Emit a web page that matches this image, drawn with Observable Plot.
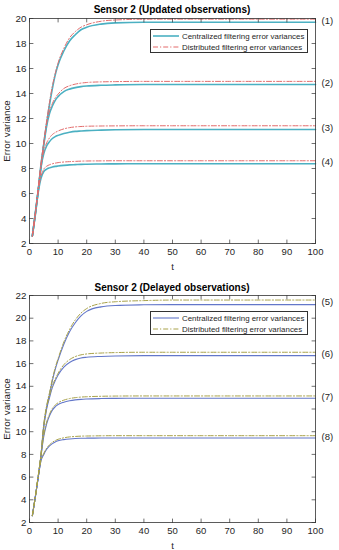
<!DOCTYPE html>
<html><head><meta charset="utf-8">
<script src="https://cdn.jsdelivr.net/npm/d3@7"></script>
<script src="https://cdn.jsdelivr.net/npm/@observablehq/plot@0.6"></script>
<style>
body{margin:0;background:#fff;}
#root{position:relative;width:339px;height:550px;background:#fff;font-family:"Liberation Sans",Arial,sans-serif;color:#262626;overflow:hidden;}
.chart{position:absolute;left:0;}
.title{position:absolute;left:29px;width:286px;text-align:center;font-weight:bold;font-size:10px;line-height:12px;color:#000;}
.legend{position:absolute;background:#fff;border:0.8px solid #333;box-sizing:border-box;}
.legend .row{position:absolute;left:2px;height:10px;display:flex;align-items:center;font-size:7.9px;white-space:nowrap;}
.legend svg{margin-right:3px;}
</style></head>
<body><div id="root"></div>
<script>
// time steps
const t = [1,2,3,4,5,6,7,8,9,10,12,14,16,18,20,25,30,40,50,60,70,80,90,100];

// Sensor 2 (Updated observations)
const upd1C = [2.6,4.4,6.2,8.0,10.0,11.6,13.1,14.4,15.5,16.3,17.4,18.2,18.7,19.1,19.3,19.55,19.65,19.7,19.7,19.7,19.7,19.7,19.7,19.7];
const upd1D = [2.6,4.4,6.3,8.1,10.1,11.8,13.3,14.6,15.6,16.45,17.6,18.45,18.95,19.3,19.5,19.78,19.88,19.94,19.95,19.95,19.95,19.95,19.95,19.95];
const upd2C = [2.6,4.3,6.1,8.3,9.9,11.4,12.4,13.0,13.45,13.75,14.15,14.35,14.47,14.55,14.6,14.66,14.69,14.72,14.72,14.72,14.72,14.72,14.72,14.72];
const upd2D = [2.6,4.3,6.2,8.4,10.05,11.6,12.6,13.2,13.65,13.95,14.4,14.62,14.75,14.83,14.88,14.93,14.95,14.97,14.97,14.97,14.97,14.97,14.97,14.97];
const upd3C = [2.6,4.3,6.2,8.1,9.2,9.8,10.15,10.4,10.55,10.65,10.8,10.9,10.97,11.0,11.03,11.07,11.1,11.12,11.12,11.12,11.12,11.12,11.12,11.12];
const upd3D = [2.6,4.3,6.3,8.2,9.4,10.05,10.45,10.72,10.88,11.0,11.17,11.27,11.33,11.36,11.38,11.4,11.41,11.42,11.42,11.42,11.42,11.42,11.42,11.42];
const upd4C = [2.6,4.2,6.0,7.2,7.75,7.95,8.05,8.12,8.17,8.2,8.25,8.29,8.31,8.33,8.34,8.36,8.37,8.38,8.38,8.38,8.38,8.38,8.38,8.38];
const upd4D = [2.6,4.2,6.1,7.35,7.95,8.18,8.3,8.38,8.43,8.47,8.52,8.55,8.57,8.59,8.6,8.61,8.62,8.62,8.62,8.62,8.62,8.62,8.62,8.62];

// Sensor 2 (Delayed observations)
const del5C = [2.6,4.2,5.9,7.9,10.6,12.2,13.3,14.5,15.5,16.3,17.7,18.8,19.6,20.2,20.6,21.0,21.12,21.18,21.2,21.2,21.2,21.2,21.2,21.2];
const del5D = [2.6,4.2,6.0,8.0,10.7,12.3,13.45,14.65,15.65,16.45,17.9,19.0,19.85,20.45,20.85,21.3,21.45,21.55,21.6,21.6,21.6,21.6,21.6,21.6];
const del6C = [2.6,4.2,5.9,7.8,10.4,12.0,13.0,13.9,14.5,15.0,15.7,16.1,16.35,16.5,16.56,16.63,16.67,16.7,16.7,16.7,16.7,16.7,16.7,16.7];
const del6D = [2.6,4.2,6.0,7.9,10.5,12.15,13.15,14.05,14.65,15.15,15.9,16.35,16.62,16.77,16.85,16.93,16.97,17.0,17.0,17.0,17.0,17.0,17.0,17.0];
const del7C = [2.6,4.2,5.9,7.8,9.6,10.7,11.4,11.9,12.2,12.4,12.6,12.72,12.8,12.85,12.88,12.92,12.94,12.95,12.95,12.95,12.95,12.95,12.95,12.95];
const del7D = [2.6,4.2,6.0,7.9,9.7,10.85,11.55,12.05,12.35,12.55,12.78,12.92,13.0,13.05,13.08,13.12,13.14,13.15,13.15,13.15,13.15,13.15,13.15,13.15];
const del8C = [2.6,4.2,5.9,7.4,8.0,8.45,8.75,8.95,9.1,9.2,9.3,9.36,9.4,9.42,9.43,9.44,9.45,9.45,9.45,9.45,9.45,9.45,9.45,9.45];
const del8D = [2.6,4.2,6.0,7.45,8.1,8.55,8.85,9.07,9.22,9.33,9.46,9.54,9.58,9.61,9.62,9.64,9.65,9.65,9.65,9.65,9.65,9.65,9.65,9.65];

const xTicks = [0,10,20,30,40,50,60,70,80,90,100];
const yTicksUpd = [2,4,6,8,10,12,14,16,18,20];
const yTicksDel = [2,4,6,8,10,12,14,16,18,20,22];
const labelsUpd = ["(1)","(2)","(3)","(4)"];
const labelsDel = ["(5)","(6)","(7)","(8)"];
const titles = ["Sensor 2 (Updated observations)","Sensor 2 (Delayed observations)"];
const legendNames = ["Centralized filtering error variances","Distributed filtering error variances"];

const FONT = '"Liberation Sans",Arial,sans-serif';
const DASH = "5,2,1.2,2";
const tickShape = {draw(ctx, l){ ctx.moveTo(0,0); ctx.lineTo(0,-l); }};

function rows(arr){ return t.map((tt,i)=>({t:tt, v:arr[i]})); }

function chart({cSeries, dSeries, labels, yDomain, yTicks, height, colC, colD, wC}) {
  const ends = cSeries.map((c,i)=>({label:labels[i], v:(c[c.length-1]+dSeries[i][dSeries[i].length-1])/2}));
  const marks = [];
  cSeries.forEach(s => marks.push(Plot.line(rows(s), {x:"t", y:"v", stroke:colC, strokeWidth:wC, curve:"monotone-x"})));
  dSeries.forEach(s => marks.push(Plot.line(rows(s), {x:"t", y:"v", stroke:colD, strokeWidth:1, strokeDasharray:DASH, curve:"monotone-x"})));
  const tk = {stroke:"#333", strokeWidth:0.7, length:3.5, anchor:"start", shape:tickShape};
  marks.push(
    Plot.vector(xTicks, {...tk, x:d=>d, frameAnchor:"bottom", rotate:0}),
    Plot.vector(xTicks, {...tk, x:d=>d, frameAnchor:"top", rotate:180}),
    Plot.vector(yTicks, {...tk, y:d=>d, frameAnchor:"left", rotate:90}),
    Plot.vector(yTicks, {...tk, y:d=>d, frameAnchor:"right", rotate:270}),
    Plot.frame({stroke:"#333", strokeWidth:0.8}),
    Plot.axisX(xTicks, {tickSize:0, tickPadding:5, label:"t", labelAnchor:"center", labelArrow:"none", labelOffset:26, fontSize:9.5}),
    Plot.axisY(yTicks, {tickSize:0, tickPadding:3, label:"Error variance", labelAnchor:"center", labelArrow:"none", labelOffset:26, fontSize:9.8}),
    Plot.text(ends, {x:()=>100, y:"v", text:"label", textAnchor:"start", dx:6, fontSize:9.5, fill:"#262626"})
  );
  return Plot.plot({
    width:339, height, marginLeft:29, marginRight:24, marginTop:18, marginBottom:height===275?32:28,
    x:{domain:[0,100]}, y:{domain:yDomain},
    style:{fontFamily:FONT, fontSize:"9.5px", color:"#262626", background:"transparent", overflow:"visible"},
    marks
  });
}

function legend(top, colC, colD, wC){
  const d = document.createElement("div");
  d.className = "legend";
  d.style.left = "150px"; d.style.top = top+"px"; d.style.width = "158px"; d.style.height = "24px";
  const sw = (col, w, dash) => `<svg width="26" height="6"><line x1="0" x2="26" y1="3" y2="3" stroke="${col}" stroke-width="${w}" ${dash?`stroke-dasharray="${dash}"`:""}/></svg>`;
  d.innerHTML = `<div class="row" style="top:1px">${sw(colC,wC,null)}<span>${legendNames[0]}</span></div>
  <div class="row" style="top:12px">${sw(colD,1,DASH)}<span>${legendNames[1]}</span></div>`;
  return d;
}

const root = document.getElementById("root");
function place(node, top){ node.classList.add("chart"); node.style.top = top+"px"; root.appendChild(node); }

const c1 = chart({cSeries:[upd1C,upd2C,upd3C,upd4C], dSeries:[upd1D,upd2D,upd3D,upd4D], labels:labelsUpd, yDomain:[2,20], yTicks:yTicksUpd, height:275, colC:"#4bb0c2", colD:"#e36b6b", wC:1.6});
place(c1, 0);
const c2 = chart({cSeries:[del5C,del6C,del7C,del8C], dSeries:[del5D,del6D,del7D,del8D], labels:labelsDel, yDomain:[2,22], yTicks:yTicksDel, height:273, colC:"#6377c9", colD:"#a9a24a", wC:1.1});
place(c2, 277);

const t1 = document.createElement("div"); t1.className="title"; t1.style.top="4px"; t1.textContent=titles[0]; root.appendChild(t1);
const t2 = document.createElement("div"); t2.className="title"; t2.style.top="282px"; t2.textContent=titles[1]; root.appendChild(t2);
root.appendChild(legend(29, "#4bb0c2", "#e36b6b", 1.6));
root.appendChild(legend(311, "#6377c9", "#a9a24a", 1.1));
</script></body></html>
